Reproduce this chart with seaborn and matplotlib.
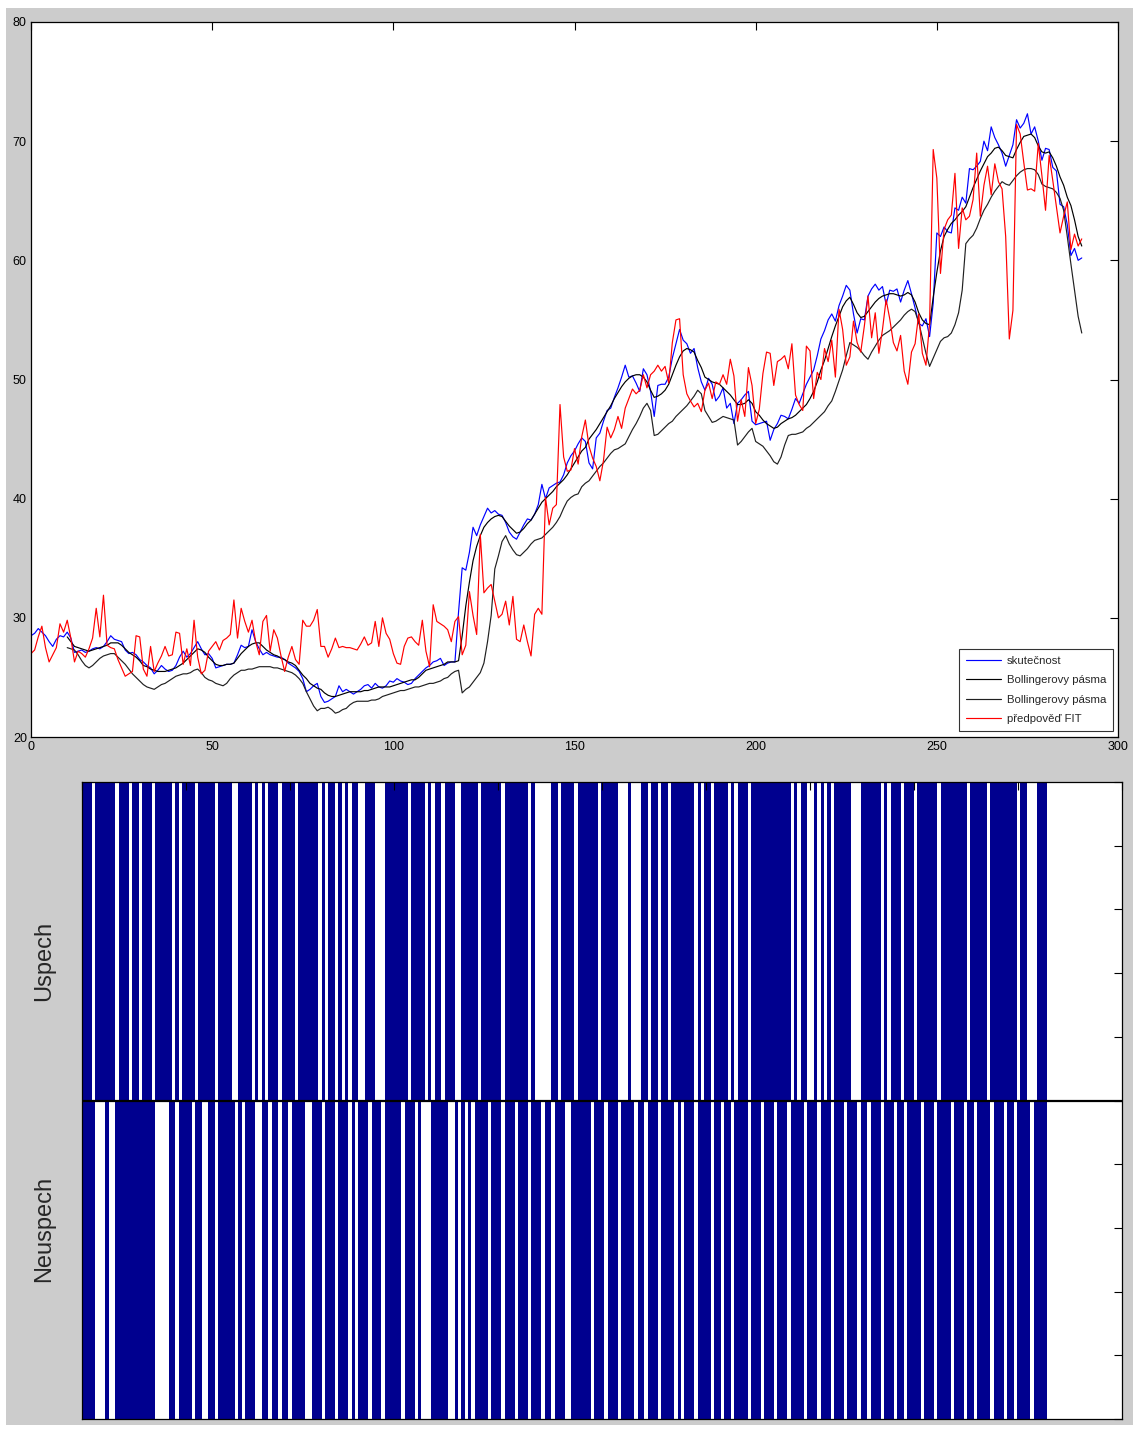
import numpy as np
import matplotlib
matplotlib.use("Agg")
import matplotlib.pyplot as plt
import seaborn as sns
from matplotlib.patches import Rectangle

# ---- closing prices (day 0 .. 290) ----
skutecnost = [
    28.5, 28.7, 29.1, 28.8, 28.5, 28.0, 27.6, 28.2, 28.5, 28.4,
    28.8, 28.3, 27.1, 27.2, 27.3, 27.1, 27.2, 27.4, 27.5, 27.4,
    27.6, 28.0, 28.5, 28.2, 28.1, 28.0, 27.3, 27.0, 27.1, 26.9,
    26.5, 26.3, 26.0, 25.8, 25.3, 25.6, 26.0, 25.7, 25.5, 25.6,
    26.0, 26.7, 27.2, 26.7, 27.0, 27.5, 28.0, 27.4, 26.9, 27.0,
    26.6, 25.8, 25.9, 26.0, 26.1, 26.1, 26.2, 26.9, 27.7, 27.5,
    27.6, 29.0, 28.0, 27.4, 26.9, 27.1, 26.9, 26.8, 26.7, 26.7,
    26.5, 26.2, 26.0, 25.8, 25.5, 24.9, 23.8, 24.0, 24.3, 24.5,
    23.4, 22.9, 23.0, 23.2, 23.4, 24.3, 23.8, 24.0, 23.8, 23.6,
    23.8, 24.0, 24.3, 24.4, 24.1, 24.5, 24.2, 24.1, 24.3, 24.7,
    24.6, 24.9, 24.7, 24.6, 24.4, 24.5, 24.9, 25.2, 25.5, 25.8,
    26.0, 26.3, 26.4, 26.6, 26.0, 26.2, 26.3, 26.3, 30.5, 34.2,
    34.0, 35.5, 37.6, 36.9, 37.8, 38.5, 39.2, 38.8, 39.0, 38.7,
    38.6, 38.0, 37.2, 36.8, 36.6, 37.2, 37.8, 38.3, 38.2, 38.7,
    39.5, 41.2, 40.0, 40.9, 41.1, 41.3, 41.4, 42.0, 43.0, 43.6,
    44.0, 44.6, 45.1, 44.8, 43.0, 42.5, 45.1, 45.5, 46.5, 47.4,
    47.6, 48.5, 49.3, 50.2, 51.2, 50.2, 50.3, 49.7, 49.0, 50.9,
    50.4, 49.0, 46.9, 49.5, 49.6, 49.6, 50.2, 51.8, 53.0, 54.2,
    53.3, 53.0, 52.2, 52.6, 51.0, 49.8, 49.1, 50.1, 49.6, 48.2,
    48.6, 49.3, 47.6, 48.0, 46.3, 48.0, 48.3, 48.7, 49.0, 46.5,
    46.2, 46.3, 46.4, 46.5, 44.9, 45.8, 46.3, 47.0, 46.9, 46.7,
    47.5, 48.4, 48.0, 48.8, 49.6, 50.2, 50.8, 52.0, 53.4, 54.1,
    55.0, 55.5, 54.9, 56.2, 57.0, 57.9, 57.5, 55.5, 53.9, 55.1,
    55.0, 57.0, 57.6, 58.0, 57.5, 57.8, 56.3, 57.5, 57.4, 57.6,
    56.5, 57.5, 58.3, 57.2, 56.0, 54.7, 54.5, 55.1, 53.6, 56.4,
    62.3, 62.0, 62.8, 62.4, 62.3, 64.4, 64.2, 65.3, 64.8, 67.7,
    67.6, 67.9, 68.3, 70.0, 69.2, 71.2, 70.3, 69.7, 69.0, 67.9,
    68.8, 69.7, 71.8, 71.1, 71.5, 72.3, 70.6, 71.2, 70.0, 68.4,
    69.4, 69.3, 67.8, 67.5, 64.7, 64.5, 63.0, 60.4, 61.0, 60.0,
    60.2,
]

# ---- Bollinger bands (day 10 .. 290) ----
boll_horni = [
    28.4, 28.0, 27.6, 27.5, 27.4, 27.3, 27.2, 27.3, 27.4, 27.5,
    27.6, 27.7, 27.9, 27.9, 27.9, 27.7, 27.4, 27.1, 26.9, 26.7,
    26.4, 26.0, 25.9, 25.7, 25.6, 25.5, 25.5, 25.5, 25.6, 25.7,
    25.8, 26.0, 26.2, 26.5, 26.8, 27.1, 27.4, 27.3, 27.1, 26.7,
    26.4, 26.1, 26.0, 26.0, 26.1, 26.1, 26.2, 26.6, 27.0, 27.3,
    27.6, 27.8, 27.9, 27.9, 27.6, 27.3, 27.1, 26.9, 26.8, 26.6,
    26.5, 26.3, 26.2, 26.0, 25.6, 25.2, 24.9, 24.5, 24.3, 24.1,
    24.0, 23.7, 23.5, 23.4, 23.4, 23.5, 23.6, 23.7, 23.8, 23.8,
    23.8, 23.8, 23.9, 23.9, 24.0, 24.1, 24.2, 24.2, 24.2, 24.2,
    24.3, 24.4, 24.5, 24.6, 24.7, 24.8, 24.8, 25.0, 25.3, 25.6,
    25.7, 25.8, 25.9, 26.0, 26.1, 26.3, 26.3, 26.3, 26.4, 28.5,
    31.0, 33.0, 34.8, 36.0, 36.9, 37.6, 38.0, 38.3, 38.5, 38.6,
    38.5, 38.1, 37.7, 37.4, 37.1, 37.2, 37.5, 37.9, 38.2, 38.7,
    39.2, 39.7, 40.0, 40.3, 40.6, 41.0, 41.3, 41.6, 42.0, 42.5,
    43.0, 43.5, 44.0, 44.3, 45.0, 45.4, 45.8, 46.3, 46.8, 47.3,
    47.8, 48.4, 48.9, 49.4, 49.8, 50.1, 50.3, 50.4, 50.4, 50.2,
    49.8, 49.1, 48.5, 48.6, 48.8, 49.1, 49.6, 50.4, 51.2, 51.9,
    52.4, 52.6, 52.5, 52.3, 51.6, 51.0, 50.2, 50.0, 49.8, 49.7,
    49.6, 49.3, 49.0, 48.7, 48.3, 47.9, 47.9, 48.0, 48.3, 48.0,
    47.3, 47.0, 46.6, 46.3, 46.1, 45.9, 46.0, 46.3, 46.5, 46.7,
    46.8, 47.0, 47.3, 47.6, 47.9, 48.4, 49.0, 49.8, 50.8, 51.6,
    52.6, 53.6, 54.5, 55.3, 56.1, 56.6, 56.9, 56.3, 55.6, 55.2,
    55.3, 55.7, 56.1, 56.5, 56.8, 57.0, 57.1, 57.2, 57.2, 57.1,
    57.0, 57.1, 57.3, 57.1, 56.5, 55.6, 55.0, 54.7, 54.6, 56.9,
    59.0, 60.8, 62.0, 62.6, 63.1, 63.4, 63.8, 64.1, 64.5, 65.3,
    66.1, 66.8, 67.5, 68.1, 68.7, 69.0, 69.4, 69.5, 69.2, 68.8,
    68.7, 68.6, 69.3, 69.9, 70.4, 70.5, 70.6, 70.3, 69.6, 69.1,
    69.0, 69.1, 68.6, 67.9, 67.0, 66.3, 65.3, 64.6, 63.4, 62.0,
    61.2,
]

boll_dolni = [
    27.5, 27.4, 27.3, 26.9, 26.4, 26.0, 25.8, 26.0, 26.3, 26.6,
    26.8, 26.9, 27.0, 27.0, 26.7, 26.4, 26.1, 25.7, 25.3, 25.0,
    24.7, 24.4, 24.2, 24.1, 24.0, 24.2, 24.4, 24.5, 24.7, 24.9,
    25.1, 25.2, 25.3, 25.3, 25.4, 25.6, 25.7, 25.4, 25.0, 24.8,
    24.7, 24.5, 24.4, 24.3, 24.5, 24.9, 25.2, 25.4, 25.6, 25.6,
    25.7, 25.7, 25.8, 25.9, 25.9, 25.9, 25.9, 25.8, 25.8, 25.7,
    25.6, 25.5, 25.4, 25.2, 24.9, 24.5, 23.8, 23.2, 22.6, 22.2,
    22.4, 22.4, 22.5, 22.3, 22.0, 22.1, 22.3, 22.4, 22.7, 22.9,
    23.0, 23.0, 23.0, 23.0, 23.1, 23.1, 23.2, 23.4, 23.5, 23.6,
    23.7, 23.8, 23.9, 23.9, 24.0, 24.1, 24.2, 24.2, 24.3, 24.4,
    24.5, 24.5, 24.6, 24.7, 24.9, 25.0, 25.3, 25.5, 25.6, 23.7,
    24.0, 24.2, 24.6, 25.0, 25.4, 26.2, 28.0, 30.2, 34.1, 35.2,
    36.4, 36.9, 36.2, 35.7, 35.3, 35.2, 35.5, 35.8, 36.2, 36.5,
    36.6, 36.7, 37.0, 37.3, 37.6, 38.0, 38.5, 39.2, 39.8, 40.1,
    40.3, 40.4, 41.0, 41.3, 41.5, 41.9, 42.3, 42.7, 43.0, 43.4,
    43.8, 44.1, 44.2, 44.4, 44.6, 45.2, 45.8, 46.3, 46.9, 47.6,
    48.0, 47.4, 45.3, 45.4, 45.7, 46.0, 46.3, 46.5, 46.9, 47.2,
    47.5, 47.8, 48.2, 48.6, 49.1, 48.8, 47.4, 46.9, 46.4, 46.5,
    46.7, 46.9, 46.8, 46.7, 46.6, 44.5, 44.8, 45.2, 45.6, 45.9,
    44.8, 44.6, 44.4, 44.0, 43.6, 43.1, 42.9, 43.5, 44.5, 45.3,
    45.4, 45.4, 45.5, 45.6, 45.9, 46.1, 46.4, 46.7, 47.0, 47.3,
    47.8, 48.2, 49.0, 49.9, 50.8, 52.0, 53.1, 52.9, 52.7, 52.4,
    52.0, 51.7, 52.3, 52.8, 53.3, 53.7, 53.9, 54.1, 54.4, 54.7,
    55.0, 55.4, 55.7, 55.9, 55.7, 54.8, 53.5, 52.2, 51.1, 51.8,
    52.5, 53.2, 53.5, 53.6, 53.9, 54.6, 55.6, 57.5, 61.4, 61.8,
    62.1, 62.7, 63.5, 64.2, 64.7, 65.3, 65.8, 66.2, 66.6, 66.4,
    66.3, 66.7, 67.1, 67.4, 67.6, 67.7, 67.7, 67.6, 67.2, 66.4,
    66.2, 66.1, 66.0, 65.7, 65.2, 64.2, 62.0, 59.7, 57.5, 55.3,
    53.9,
]

# ---- FIT forecast (day 0 .. 290) ----
predpoved = [
    27.0, 27.3, 28.4, 29.3, 27.5, 26.3, 26.9, 27.5, 29.5, 28.8,
    29.8, 28.3, 26.3, 27.2, 27.0, 26.7, 27.4, 28.3, 30.8, 28.4,
    31.9, 27.7, 27.5, 27.4, 26.5, 25.8, 25.1, 25.3, 25.5, 28.5,
    28.4, 25.7, 25.1, 27.6, 25.5, 26.2, 26.8, 27.6, 26.8, 26.9,
    28.8, 28.7, 26.1, 27.4, 26.0, 29.8, 26.7, 25.3, 25.6, 27.2,
    27.6, 28.0, 27.3, 28.1, 28.3, 28.6, 31.5, 28.3, 30.8, 29.7,
    28.8, 29.8, 28.0, 26.9, 29.7, 30.2, 27.2, 29.0, 28.3, 26.8,
    25.5, 26.7, 27.6, 26.5, 26.1, 29.8, 29.3, 29.3, 29.8, 30.7,
    27.6, 27.6, 26.7, 27.4, 28.3, 27.5, 27.6, 27.5, 27.5, 27.4,
    27.3, 27.8, 28.4, 27.7, 27.9, 29.7, 27.6, 30.0, 28.7, 28.2,
    27.0, 26.2, 26.1, 27.6, 28.3, 28.4, 28.0, 27.7, 29.8, 27.2,
    25.9, 31.1, 29.7, 29.5, 29.3, 29.0, 28.0, 29.7, 30.1, 26.9,
    27.7, 32.2, 30.2, 28.6, 37.0, 32.1, 32.5, 32.8, 31.4, 30.0,
    30.3, 31.4, 29.4, 31.8, 28.2, 28.0, 29.4, 28.0, 26.8, 30.3,
    30.8, 30.3, 40.1, 37.8, 39.2, 39.5, 47.9, 43.5, 42.3, 42.4,
    44.2, 42.9, 45.2, 46.6, 44.4, 43.4, 42.7, 41.5, 43.2, 46.0,
    45.1, 45.8, 46.9, 45.9, 47.6, 48.4, 49.2, 48.8, 49.1, 50.4,
    49.3, 50.4, 50.7, 51.2, 50.7, 51.1, 49.7, 53.1, 55.0, 55.1,
    50.4, 48.8, 48.2, 47.7, 48.0, 47.3, 49.1, 49.7, 48.4, 49.8,
    49.6, 50.4, 49.6, 51.7, 50.3, 46.5, 48.3, 46.9, 51.0, 49.5,
    46.3, 47.5, 50.5, 52.3, 52.2, 49.5, 51.5, 51.7, 52.0, 50.9,
    53.0, 48.7, 47.9, 47.4, 52.8, 52.4, 48.4, 50.6, 50.0, 52.6,
    51.5, 53.3, 50.2, 55.9, 54.2, 51.2, 51.9, 54.9, 53.1, 52.3,
    54.5, 57.0, 53.5, 55.6, 52.2, 54.2, 56.7, 55.1, 53.1, 52.4,
    53.7, 50.7, 49.6, 52.3, 53.0, 55.5, 52.2, 51.2, 54.7, 69.3,
    66.9, 58.9, 62.6, 63.4, 63.8, 67.3, 61.0, 64.4, 63.4, 63.7,
    65.1, 69.0, 63.7, 66.3, 67.9, 65.5, 68.1, 66.6, 66.0, 62.0,
    53.4, 55.8, 71.4, 70.6, 68.2, 65.9, 66.0, 65.8, 69.8, 67.1,
    64.2, 68.8, 66.7, 64.5, 62.3, 63.7, 64.9, 60.9, 62.2, 61.2,
    61.8,
]

# ---- daily outcome flags (1 = bar drawn) ----
uspech = (
    "1110111111" "0111011011" "1011111010" "1111011111"
    "0111100111" "1010101110" "1111011111" "1010110101"
    "0110011100" "0111111101" "1110101101" "1100111110"
    "1111110111" "1111010000" "0110111101" "1111101111"
    "1000100011" "0110110111" "1111010110" "1111010111"
    "0111111111" "1110101100" "1010101111" "1000111111"
    "0101110111" "0111111011" "1111110111" "1101111111"
    "1011000111"
)
neuspech = (
    "1111000100" "1111111111" "1100001101" "1110110011"
    "0111110101" "1100110110" "1101111001" "1101110111"
    "0101110111" "0111110111" "0100011111" "0010101011"
    "1101110111" "0111011101" "1011100111" "1110111011"
    "1011110110" "1110111101" "0111011110" "1101101111"
    "0111011101" "1101111011" "1011101110" "1110110111"
    "0111011011" "1101110111" "1011101101" "1110111011"
    "0111101111"
)

legend_labels = ["skutečnost", "Bollingerovy pásma", "Bollingerovy pásma",
                 "předpověď FIT"]

# ---------------------------------------------------------------
sns.set_style("white")
plt.rcParams["font.family"] = ["Liberation Sans", "DejaVu Sans"]

W, H = 1141, 1432
fig = plt.figure(figsize=(W / 100, H / 100), dpi=100)
fig.patch.set_facecolor("white")
fig.add_artist(Rectangle((6 / W, 7 / H), (1133 - 6) / W, (1424 - 7) / H,
                         transform=fig.transFigure, facecolor="#cccccc",
                         edgecolor="none", zorder=-5))


def px_axes(x0, y0, x1, y1):
    return fig.add_axes([x0 / W, 1 - y1 / H, (x1 - x0) / W, (y1 - y0) / H])


# ---- price panel ----
ax = px_axes(31, 22, 1118, 737)
ax.set_facecolor("white")
dny = np.arange(len(skutecnost))
dny_boll = np.arange(10, 10 + len(boll_horni))

lw = 0.85
sns.lineplot(x=dny, y=skutecnost, color="#0000ff", lw=lw, ax=ax,
             label=legend_labels[0], errorbar=None)
sns.lineplot(x=dny_boll, y=boll_horni, color="#000000", lw=lw, ax=ax,
             label=legend_labels[1], errorbar=None)
sns.lineplot(x=dny_boll, y=boll_dolni, color="#202020", lw=lw, ax=ax,
             label=legend_labels[2], errorbar=None)
sns.lineplot(x=dny, y=predpoved, color="#ff0000", lw=lw, ax=ax,
             label=legend_labels[3], errorbar=None)

ax.set_xlim(0, 300)
ax.set_ylim(20, 80)
ax.set_xticks(np.arange(0, 301, 50))
ax.set_yticks(np.arange(20, 81, 10))
ax.set_xlabel("")
ax.set_ylabel("")
ax.tick_params(direction="in", length=6, width=0.8, top=True, right=True,
               labelsize=9, colors="black", pad=3)
for s in ax.spines.values():
    s.set_color("black")
    s.set_linewidth(0.9)

leg = ax.legend(loc="lower right", bbox_to_anchor=(0.9954, 0.0084),
                borderaxespad=0, frameon=True, fancybox=False,
                handlelength=3.1, handletextpad=0.45,
                labelspacing=0.82, borderpad=0.62,
                prop={"family": ["Liberation Sans", "DejaVu Sans"],
                      "size": 8.2})
leg.get_frame().set_edgecolor("black")
leg.get_frame().set_linewidth(0.8)

# ---- outcome panel ----
bx = px_axes(82, 782, 1122, 1419)
bx.set_facecolor("white")
n = len(uspech)
poz = np.arange(1, n + 1)
up = np.array([int(c) for c in uspech], dtype=float)
down = -np.array([int(c) for c in neuspech], dtype=float)
navy = "#00008f"
bw = 1.0
sns.barplot(x=poz, y=up, native_scale=True, width=bw, color=navy,
            saturation=1, errorbar=None, linewidth=0, ax=bx)
sns.barplot(x=poz, y=down, native_scale=True, width=bw, color=navy,
            saturation=1, errorbar=None, linewidth=0, ax=bx)

left = 1 - bw / 2
right = left + 1040 * (n - 1 + bw) / 965
bx.set_xlim(left, right)
bx.set_ylim(-1, 1)
bx.axhline(0, color="black", lw=1.6, zorder=5)
bx.set_xticks(np.linspace(left, right, 11))
bx.set_yticks(np.linspace(-1, 1, 11))
bx.set_xticklabels([])
bx.set_yticklabels([])
bx.set_xlabel("")
bx.set_ylabel("")
bx.tick_params(direction="in", length=6, width=0.8, top=True, right=True,
               colors="black")
bx.set_axisbelow(False)
for s in bx.spines.values():
    s.set_color("black")
    s.set_linewidth(0.9)
    s.set_zorder(6)

bx.text(-0.0365, 0.719, "Uspech", rotation=90, transform=bx.transAxes,
        ha="center", va="center", fontsize=17)
bx.text(-0.0365, 0.298, "Neuspech", rotation=90, transform=bx.transAxes,
        ha="center", va="center", fontsize=17)

fig.savefig("out.png", dpi=100, facecolor=fig.get_facecolor())
